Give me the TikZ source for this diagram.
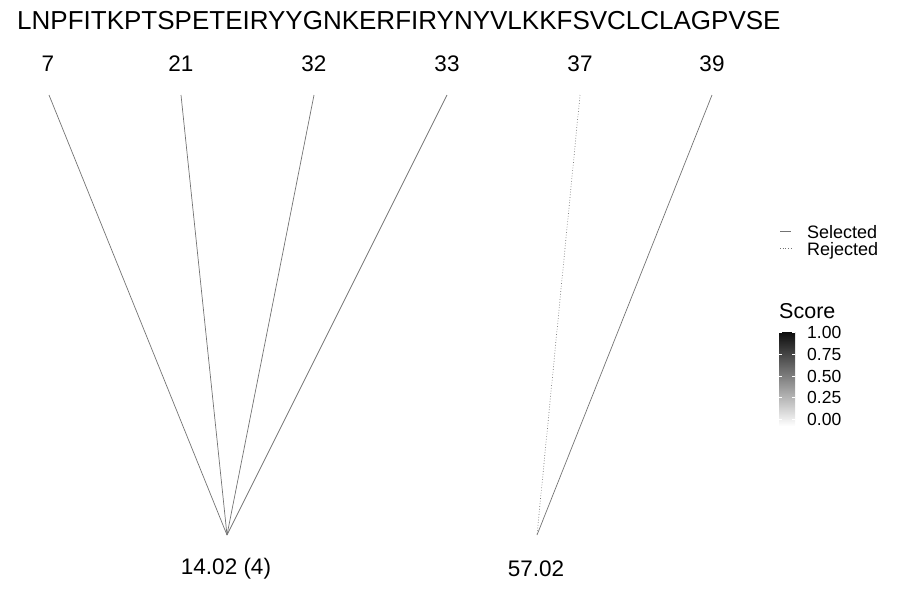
\documentclass[tikz,border=0pt]{standalone}
\usepackage{fontspec}
\setmainfont{Liberation Sans}
\tikzset{
  seqtext/.style={inner sep=0pt, font=\fontsize{26}{30}\selectfont},
  sitelabel/.style={inner sep=0pt, font=\fontsize{22.5}{26}\selectfont},
  masslabel/.style={inner sep=0pt, font=\fontsize{22.5}{26}\selectfont},
  legtext/.style={inner sep=0pt, anchor=base west, text height=13pt, text depth=3.5pt, font=\fontsize{18}{21}\selectfont},
  ticktext/.style={inner sep=0pt, anchor=west, font=\fontsize{17.5}{21}\selectfont},
  selected/.style={draw=black!55, line width=0.7pt},
  rejected/.style={draw=black!55, line width=0.7pt, dotted},
}
\begin{document}
\begin{tikzpicture}[x=1pt,y=-1pt]
  % canvas in pixels
  \useasboundingbox (0,0) rectangle (900,600);

  % sequence
  \node[seqtext, anchor=west] (seq) at (17,21) {LNPFITKPTSPETEIRYYGNKERFIRYNYVLKKFSVCLCLAGPVSE};

  % site labels
  \node[sitelabel] (l7)  at (48,64)  {7};
  \node[sitelabel] (l21) at (181,64) {21};
  \node[sitelabel] (l32) at (314,64) {32};
  \node[sitelabel] (l33) at (447,64) {33};
  \node[sitelabel] (l37) at (580,64) {37};
  \node[sitelabel] (l39) at (712,64) {39};

  % top ends of the links
  \coordinate (s7)  at (49,95);
  \coordinate (s21) at (181,95);
  \coordinate (s32) at (314,95);
  \coordinate (s33) at (447,95);
  \coordinate (s37) at (580,95);
  \coordinate (s39) at (712,95);

  % mass points
  \coordinate (m1) at (227,535);
  \coordinate (m2) at (537,535);
  \node[masslabel] (n1) at (226,569) {14.02 (4)};
  \node[masslabel] (n2) at (536,569) {57.02};

  % links
  \draw[selected] (s7)  -- (m1);
  \draw[selected] (s21) -- (m1);
  \draw[selected] (s32) -- (m1);
  \draw[selected] (s33) -- (m1);
  \draw[rejected] (s37) -- (m2);
  \draw[selected] (s39) -- (m2);

  % legend for line type
  \coordinate (ka) at (780,231);
  \coordinate (kb) at (791,231);
  \coordinate (kc) at (780,248);
  \coordinate (kd) at (791,248);
  \draw[selected] (ka) -- (kb);
  \draw[rejected] (kc) -- (kd);
  \node[legtext] (sel) at (807,238) {Selected};
  \node[legtext] (rej) at (807,255) {Rejected};

  % colour bar
  \node[ticktext, font=\fontsize{21.5}{25}\selectfont] (score) at (779,311) {Score};
  \shade[top color=black!95, bottom color=white] (779,332) rectangle (795,426);
  \foreach \yy/\val in {332/1.00, 354/0.75, 376/0.50, 397/0.25, 419/0.00} {
    \draw[white, line width=0.5pt] (779,\yy) -- (782,\yy);
    \draw[white, line width=0.5pt] (792,\yy) -- (795,\yy);
    \node[ticktext] at (807,\yy) {\val};
  }
\end{tikzpicture}
\end{document}
